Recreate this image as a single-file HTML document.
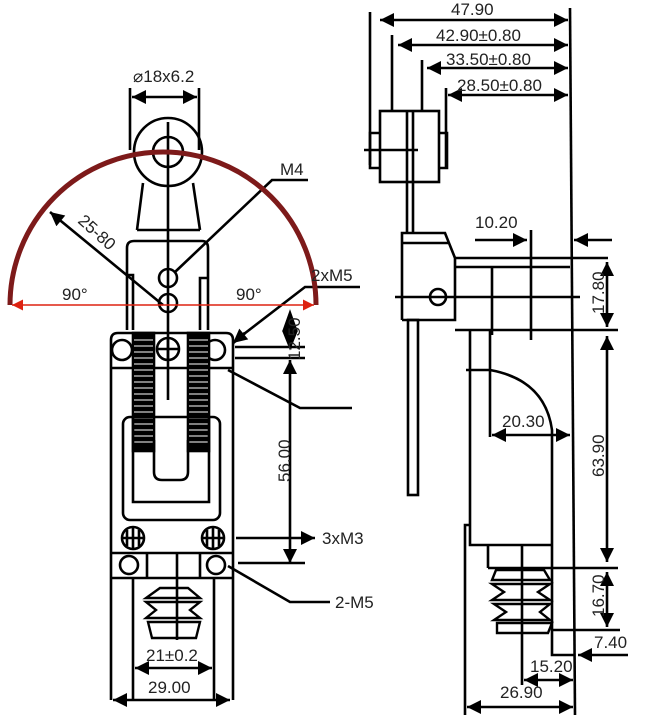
<!DOCTYPE html>
<html><head><meta charset="utf-8"><style>
html,body{margin:0;padding:0;background:#fff;width:653px;height:725px;overflow:hidden}
svg{display:block}
text{font-family:"Liberation Sans",sans-serif;font-size:17px;fill:#222}
</style></head><body>
<svg width="653" height="725" viewBox="0 0 653 725" xmlns="http://www.w3.org/2000/svg">
<defs>
<marker id="ar" viewBox="0 0 10 10" refX="10" refY="5" markerWidth="12" markerHeight="11" orient="auto-start-reverse" markerUnits="userSpaceOnUse"><path d="M0,0L10,5L0,10z" fill="#d21"/></marker>
<marker id="b" viewBox="0 0 10 10" refX="10" refY="5" markerWidth="19" markerHeight="14" orient="auto-start-reverse" markerUnits="userSpaceOnUse"><path d="M0,0L10,5L0,10z" fill="#000"/></marker>
</defs>
<g stroke="#000" stroke-width="2.6" fill="none">
<!-- LEFT VIEW -->
<line x1="130" y1="88" x2="130" y2="150"/><line x1="199" y1="88" x2="199" y2="150"/>
<line x1="132" y1="97" x2="197" y2="97" marker-start="url(#b)" marker-end="url(#b)"/>
<circle cx="168" cy="152" r="34"/><circle cx="168" cy="152" r="15"/>
<path d="M143,183 L137,230 M193,183 L200,230 M137,230 H200"/>
<line x1="168" y1="122" x2="168" y2="400"/>
<path d="M127,330 V248 Q127,241 134,241 H202 Q208,241 208,248 V330"/>
<path d="M127,275 H133 V330 M208,278 H200 V330"/>
<circle cx="168" cy="278" r="9"/><circle cx="168" cy="303" r="9"/>
<path d="M111,700 V340 Q111,333 118,333 H226 Q233,333 233,340 V700"/>
<line x1="111" y1="368" x2="233" y2="368"/>
<circle cx="122" cy="350" r="10"/><circle cx="215" cy="350" r="10"/>
<circle cx="168" cy="349" r="11"/><path d="M157,349H179M168,338V360"/>
<rect x="133" y="333" width="21" height="118" fill="#000"/>
<rect x="188" y="333" width="21" height="118" fill="#000"/>
<g stroke="#fff" stroke-width="1"><path d="M134,340H153M134,346H153M134,352H153M134,358H153M134,364H153M134,370H153M134,376H153M134,382H153M134,388H153M134,394H153M134,400H153M134,406H153M134,412H153M134,418H153M134,424H153M134,430H153M134,436H153M134,442H153"/><path d="M189,340H208M189,346H208M189,352H208M189,358H208M189,364H208M189,370H208M189,376H208M189,382H208M189,388H208M189,394H208M189,400H208M189,406H208M189,412H208M189,418H208M189,424H208M189,430H208M189,436H208M189,442H208"/></g>
<rect x="123" y="417" width="97" height="103" rx="7"/>
<path d="M133,417 V502 H209 V417"/>
<path d="M154,440 V472 Q154,480 162,480 H180 Q188,480 188,472 V440"/>
<circle cx="133" cy="538" r="11"/><path d="M122,538H144M133,527V549M127,530V546M139,530V546"/>
<circle cx="213" cy="538" r="11"/><path d="M202,538H224M213,527V549M207,530V546M219,530V546"/>
<line x1="111" y1="553" x2="233" y2="553"/><line x1="111" y1="578" x2="233" y2="578"/>
<circle cx="129" cy="565" r="9"/><circle cx="216" cy="565" r="9"/>
<path d="M147,553V578M200,553V578M177,553V640"/>
<path d="M133,578 V700 M214,578 V700"/>
<path d="M160,588 H188 L200,598 H146 Z M146,602 H200 L190,610 L200,618 H146 L156,610 Z M148,622 H200 L196,638 H152 Z" stroke-width="2.4"/>
<line x1="135" y1="668" x2="212" y2="668" marker-start="url(#b)" marker-end="url(#b)"/>
<line x1="113" y1="700" x2="230" y2="700" marker-start="url(#b)" marker-end="url(#b)"/>
<line x1="290" y1="315" x2="290" y2="345"/><path d="M290,313 L284,330 H296Z" fill="#000"/>
<path d="M290,347 L284,332 H296Z" fill="#000"/>
<line x1="235" y1="347" x2="305" y2="347"/><line x1="235" y1="358" x2="305" y2="358"/>
<line x1="290" y1="360" x2="290" y2="563" marker-start="url(#b)" marker-end="url(#b)"/>
<line x1="238" y1="563" x2="305" y2="563"/>
<line x1="236" y1="538" x2="315" y2="538" marker-end="url(#b)"/>
<path d="M228,566 L290,602 H330"/>
<path d="M228,370 L300,408 H352"/>
<path d="M240,337 L305,287 H360"/>
<path d="M175,272 L272,180 H308"/>
<line x1="163" y1="305" x2="50" y2="212" marker-end="url(#b)"/>
</g>
<line x1="245" y1="333" x2="233" y2="343" stroke="#000" stroke-width="3" marker-end="url(#b)"/>
<path d="M10,305 A153,153 0 0 1 316,305" stroke="#7d1a1a" stroke-width="5" fill="none"/>
<line x1="12" y1="305" x2="314" y2="305" stroke="#d21" stroke-width="1.5" marker-start="url(#ar)" marker-end="url(#ar)"/>
<text x="133" y="82">⌀18x6.2</text>
<text x="280" y="175">M4</text>
<text x="311" y="281">2xM5</text>
<text x="62" y="300">90°</text>
<text x="236" y="300">90°</text>
<text transform="translate(77,222) rotate(42)">25-80</text>
<text transform="translate(300,360) rotate(-90)">12.50</text>
<text transform="translate(290,482) rotate(-90)" font-size="18">56.00</text>
<text x="322" y="544" font-size="18">3xM3</text>
<text x="335" y="608" font-size="18">2-M5</text>
<text x="146" y="661" font-size="18">21±0.2</text>
<text x="148" y="693" font-size="18">29.00</text>
<!-- RIGHT VIEW -->
<g stroke="#000" stroke-width="2.6" fill="none">
<line x1="570" y1="8" x2="575" y2="715"/>
<path d="M370,12V165M392,35V110M422,60V110M446,88V168"/>
<line x1="380" y1="20" x2="568" y2="20" marker-start="url(#b)" marker-end="url(#b)"/>
<line x1="398" y1="45" x2="568" y2="45" marker-start="url(#b)" marker-end="url(#b)"/>
<line x1="427" y1="68" x2="568" y2="68" marker-start="url(#b)" marker-end="url(#b)"/>
<line x1="448" y1="95" x2="568" y2="95" marker-start="url(#b)" marker-end="url(#b)"/>
<rect x="380" y="111" width="59" height="71"/>
<path d="M407,111V233M413,111V233"/>
<path d="M380,133H370V168H380M439,133H447V168H439"/>
<line x1="364" y1="150" x2="418" y2="150"/>
<path d="M402,320 V233 H445 L455,258 V320 H402 M402,243 H448"/>
<circle cx="438" cy="297" r="8"/>
<line x1="395" y1="297" x2="580" y2="297"/>
<rect x="408" y="320" width="10" height="175"/>
<path d="M455,258 H608 M455,267 H570 M455,330 H618"/>
<path d="M492,267V335 M531,230V340"/>
<line x1="475" y1="240" x2="527" y2="240" marker-end="url(#b)"/>
<line x1="612" y1="240" x2="574" y2="240" marker-end="url(#b)"/>
<line x1="607" y1="262" x2="607" y2="327" marker-start="url(#b)" marker-end="url(#b)"/>
<line x1="607" y1="336" x2="607" y2="562" marker-start="url(#b)" marker-end="url(#b)"/>
<path d="M470,330 V545 H552 M466,370 H490 Q545,380 552,430 V545 M490,330 V437"/>
<line x1="492" y1="435" x2="570" y2="435" marker-start="url(#b)" marker-end="url(#b)"/>
<path d="M470,525 H465 V715"/>
<path d="M552,545 V655 H575 M488,568 H618 M552,630 H620"/>
<path d="M488,545 V568 M522,545 V685"/>
<path d="M496,570 H544 L550,580 H492 Z M492,584 H550 L538,592 L550,600 H492 L504,592 Z M494,604 H550 L540,612 L550,620 H494 L506,612 Z M497,623 H552 L548,633 H497 Z" stroke-width="2.4"/>
<line x1="607" y1="572" x2="607" y2="627" marker-start="url(#b)" marker-end="url(#b)"/>
<line x1="628" y1="655" x2="578" y2="655" marker-end="url(#b)"/>
<line x1="524" y1="680" x2="573" y2="680" marker-start="url(#b)" marker-end="url(#b)"/>
<line x1="467" y1="707" x2="573" y2="707" marker-start="url(#b)" marker-end="url(#b)"/>
</g>
<text x="451" y="15" font-size="18">47.90</text>
<text x="436" y="41" font-size="18">42.90±0.80</text>
<text x="446" y="65" font-size="18">33.50±0.80</text>
<text x="457" y="91" font-size="18">28.50±0.80</text>
<text x="475" y="228" font-size="18">10.20</text>
<text transform="translate(604,314) rotate(-90)" font-size="17">17.80</text>
<text transform="translate(604,477) rotate(-90)" font-size="17">63.90</text>
<text x="502" y="427" font-size="17">20.30</text>
<text transform="translate(604,617) rotate(-90)" font-size="17">16.70</text>
<text x="594" y="648" font-size="17">7.40</text>
<text x="530" y="672" font-size="17">15.20</text>
<text x="500" y="698" font-size="17">26.90</text>
</svg>
</body></html>
